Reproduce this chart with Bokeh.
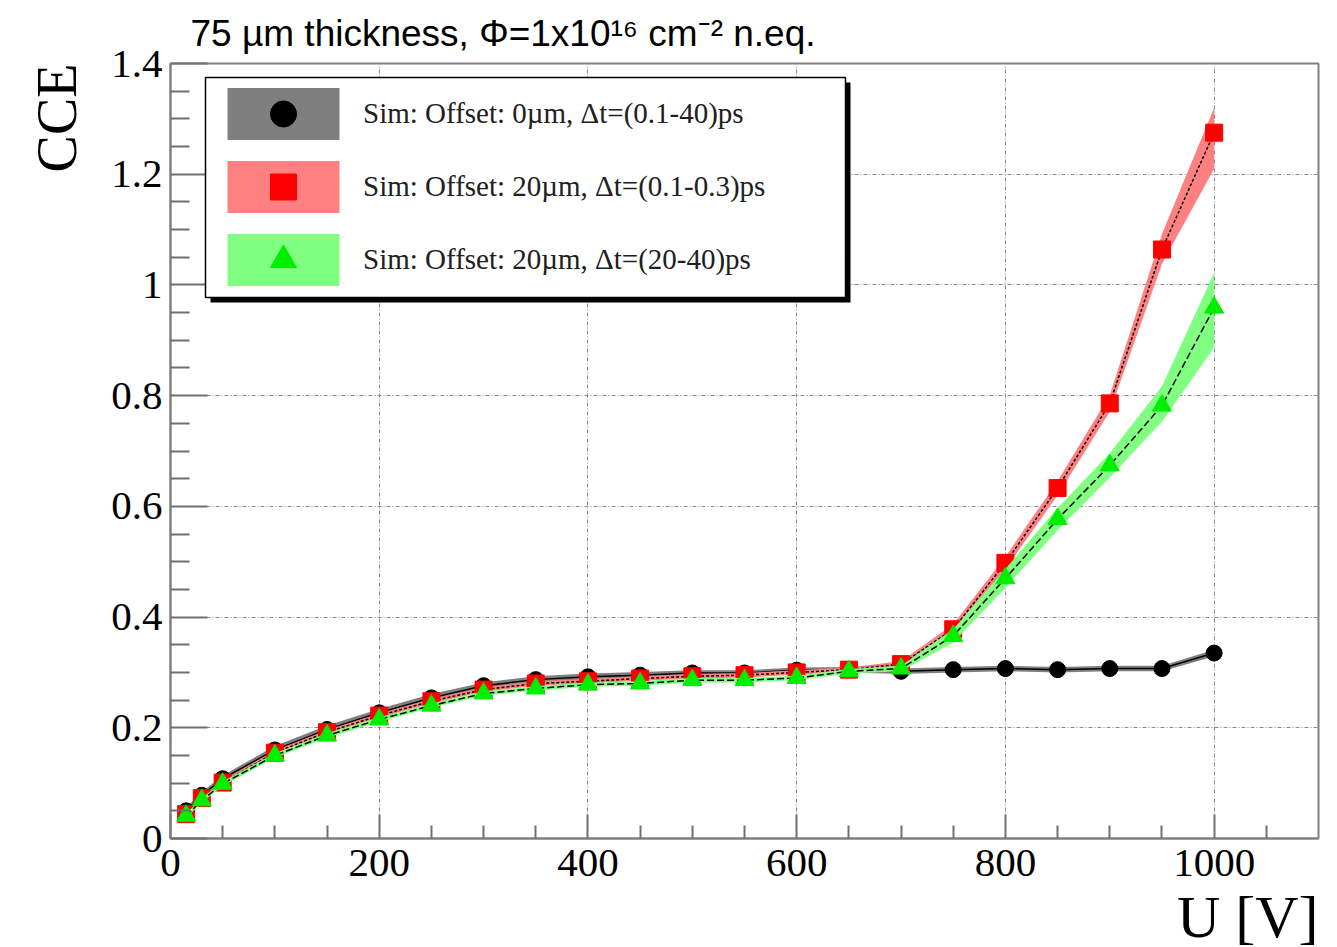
from bokeh.plotting import figure
from bokeh.models import (Legend, LegendItem, Title, BoxAnnotation, FixedTicker,
                          Range1d, CustomJSTickFormatter)
from bokeh.embed import file_html
from bokeh.resources import INLINE

# ---------------- data ----------------
voltage = [15, 30, 50, 100, 150, 200, 250, 300, 350, 400, 450, 500, 550, 600,
           650, 700, 750, 800, 850, 900, 950, 1000]

cce_off0 = [0.050, 0.078, 0.108, 0.160, 0.197, 0.227, 0.254, 0.276, 0.287, 0.292,
            0.295, 0.299, 0.299, 0.304, 0.305, 0.302, 0.305, 0.307, 0.305, 0.307,
            0.307, 0.335]
err_off0 = [0.006, 0.006, 0.006, 0.007, 0.007, 0.007, 0.007, 0.006, 0.006, 0.006,
            0.006, 0.005, 0.005, 0.005, 0.005, 0.005, 0.005, 0.005, 0.005, 0.005,
            0.005, 0.006]

cce_fast = [0.044, 0.073, 0.101, 0.155, 0.192, 0.222, 0.248, 0.269, 0.280, 0.284,
            0.289, 0.293, 0.295, 0.300, 0.305, 0.315, 0.378, 0.498, 0.633, 0.786,
            1.064, 1.275]
err_fast_lo = [0.004, 0.004, 0.004, 0.004, 0.004, 0.004, 0.004, 0.004, 0.004, 0.004,
               0.004, 0.004, 0.004, 0.004, 0.004, 0.005, 0.009, 0.011, 0.013, 0.015,
               0.026, 0.065]
err_fast_hi = [0.004, 0.004, 0.004, 0.004, 0.004, 0.004, 0.004, 0.004, 0.004, 0.004,
               0.004, 0.004, 0.004, 0.004, 0.004, 0.005, 0.009, 0.011, 0.013, 0.015,
               0.028, 0.045]

cce_slow = [0.041, 0.069, 0.099, 0.150, 0.186, 0.215, 0.240, 0.262, 0.271, 0.278,
            0.280, 0.286, 0.286, 0.290, 0.302, 0.307, 0.366, 0.470, 0.577, 0.674,
            0.782, 0.959]
err_slow_lo = [0.004, 0.004, 0.004, 0.004, 0.004, 0.004, 0.004, 0.004, 0.004, 0.004,
               0.004, 0.004, 0.004, 0.004, 0.004, 0.005, 0.012, 0.017, 0.020, 0.022,
               0.029, 0.072]
err_slow_hi = [0.004, 0.004, 0.004, 0.004, 0.004, 0.004, 0.004, 0.004, 0.004, 0.004,
               0.004, 0.004, 0.004, 0.004, 0.004, 0.005, 0.012, 0.017, 0.020, 0.022,
               0.035, 0.063]

labels = ["Sim: Offset: 0\u00b5m, \u0394t=(0.1-40)ps",
          "Sim: Offset: 20\u00b5m, \u0394t=(0.1-0.3)ps",
          "Sim: Offset: 20\u00b5m, \u0394t=(20-40)ps"]

title_text = "75 \u00b5m thickness, \u03a6=1x10\u00b9\u2076 cm\u207b\u00b2 n.eq."
x_title = "U [V]"
y_title = "CCE"

x_major = [0, 200, 400, 600, 800, 1000]
x_minor = [50, 100, 150, 250, 300, 350, 450, 500, 550, 650, 700, 750, 850, 900, 950, 1050]
y_major = [0, 0.2, 0.4, 0.6, 0.8, 1.0, 1.2, 1.4]
y_minor = [0.05, 0.1, 0.15, 0.25, 0.3, 0.35, 0.45, 0.5, 0.55, 0.65, 0.7, 0.75,
           0.85, 0.9, 0.95, 1.05, 1.1, 1.15, 1.25, 1.3, 1.35]

# ---------------- figure ----------------
X0, X1, Y0, Y1 = 0, 1100, 0, 1.4
FW, FH = 1148, 775
FL, FT = 170, 63  # frame left / top on the page


def px_x(px):
    return X0 + (px - FL) * (X1 - X0) / FW


def px_y(py):
    return Y0 + (FT + FH - py) * (Y1 - Y0) / FH


p = figure(frame_width=FW, frame_height=FH, x_range=Range1d(X0, X1), y_range=Range1d(Y0, Y1),
           output_backend="svg", toolbar_location=None,
           min_border_left=FL, min_border_right=15, min_border_top=FT, min_border_bottom=0,
           background_fill_color="white", border_fill_color="white")

p.title.text = title_text
p.title.align = "left"
p.title.offset = 20
p.title.text_font = "Liberation Sans"
p.title.text_font_size = "37px"
p.title.text_font_style = "normal"
p.title.text_color = "black"
p.title.standoff = 19

p.outline_line_color = "#808080"
p.outline_line_width = 2

xt = FixedTicker(ticks=x_major, minor_ticks=x_minor)
yt = FixedTicker(ticks=y_major, minor_ticks=y_minor)
p.xaxis.ticker = xt
p.yaxis.ticker = yt
p.xgrid.ticker = xt
p.ygrid.ticker = yt
for g in (p.xgrid[0], p.ygrid[0]):
    g.grid_line_color = "#8a8a8a"
    g.grid_line_dash = "4 2 1 2"
    g.grid_line_width = 1

for ax in (p.xaxis[0], p.yaxis[0]):
    ax.axis_line_color = "#808080"
    ax.axis_line_width = 2
    ax.major_tick_line_color = "#707070"
    ax.minor_tick_line_color = "#707070"
    ax.major_tick_line_width = 2
    ax.minor_tick_line_width = 2
    ax.major_tick_out = 0
    ax.minor_tick_out = 0
    ax.major_label_text_font = "Liberation Serif"
    ax.major_label_text_font_size = "41px"
    ax.major_label_text_color = "black"

p.yaxis.major_tick_in = 37
p.yaxis.minor_tick_in = 19
p.xaxis.major_tick_in = 24
p.xaxis.minor_tick_in = 13
p.yaxis.major_label_standoff = 8
p.xaxis.major_label_standoff = 11
p.yaxis.formatter = CustomJSTickFormatter(code="return tick.toFixed(1).replace(/\\.0$/, '');")

# axis titles (ROOT style: at the far ends of the axes)
p.add_layout(Title(text=y_title, align="right", text_font="Liberation Serif",
                   text_font_size="56px", text_font_style="normal", text_color="black",
                   standoff=42), "left")
p.add_layout(Title(text=x_title, align="right", text_font="Liberation Serif",
                   text_font_size="60px", text_font_style="normal", text_color="black",
                   standoff=6), "below")

# ---------------- series ----------------
def band(y, lo, hi):
    return [v - a for v, a in zip(y, lo)], [v + b for v, b in zip(y, hi)]

series = [
    dict(y=cce_off0, lo=err_off0, hi=err_off0, fill="#7f7f7f",
         mcolor="black", marker="circle", size=16, dash="solid"),
    dict(y=cce_fast, lo=err_fast_lo, hi=err_fast_hi, fill="#ff8080",
         mcolor="#ff0000", marker="square", size=17, dash="3 2"),
    dict(y=cce_slow, lo=err_slow_lo, hi=err_slow_hi, fill="#80ff80",
         mcolor="#00ee00", marker="triangle", size=19, dash="7 3"),
]

items = []
for s, lab in zip(series, labels):
    ylo, yhi = band(s["y"], s["lo"], s["hi"])
    b = p.varea(x=voltage, y1=ylo, y2=yhi, fill_color=s["fill"], fill_alpha=1.0)
    p.line(x=voltage, y=s["y"], line_color="black", line_width=1.5, line_dash=s["dash"])
    sc = p.scatter(x=voltage, y=s["y"], marker=s["marker"], size=s["size"],
                   fill_color=s["mcolor"], line_color=s["mcolor"])
    leg_line = p.line(x=[], y=[], line_color="#202020", line_width=2)
    items.append(LegendItem(label=lab, renderers=[b, leg_line, sc]))

# ---------------- legend box with shadow ----------------
shadow = BoxAnnotation(left=px_x(210), right=px_x(850), top=px_y(82), bottom=px_y(302),
                       fill_color="black", fill_alpha=1.0, line_alpha=0)
box = BoxAnnotation(left=px_x(205), right=px_x(845), top=px_y(77), bottom=px_y(297),
                    fill_color="white", fill_alpha=1.0, line_color="black", line_width=1.5,
                    line_alpha=1.0)
p.add_layout(shadow)
p.add_layout(box)

legend = Legend(items=items, location=(43, 546), glyph_width=140, glyph_height=65,
                spacing=8, padding=0, margin=0, label_standoff=10,
                background_fill_alpha=0, border_line_alpha=0,
                label_text_font="Liberation Serif", label_text_font_size="29px",
                label_text_color="#202020")
p.add_layout(legend)

open("out.html", "w").write(file_html(p, INLINE))
